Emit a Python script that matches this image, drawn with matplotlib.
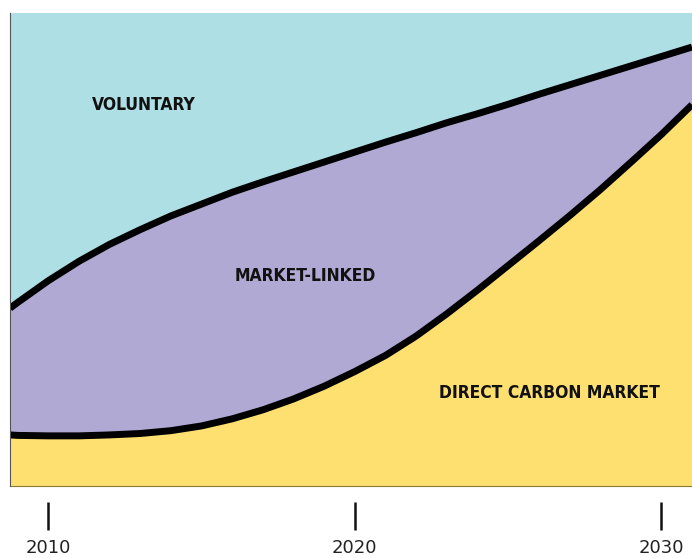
import numpy as np
import matplotlib
matplotlib.use("Agg")
import matplotlib.pyplot as plt

# shares of the market (percent of total)
years = [2008.75] + list(range(2009, 2032))
direct = [10.8, 10.7, 10.6, 10.6, 10.8, 11.1, 11.7, 12.7, 14.2, 16.1, 18.4, 21.1,
          24.2, 27.6, 31.7, 36.4, 41.4, 46.6, 51.8, 57.1, 62.6, 68.4, 74.3, 80.6]
market_linked = [26.8, 28.1, 32.8, 36.9, 40.3, 43.1, 45.4, 46.9, 47.9, 48.2, 48.0, 47.4,
                 46.4, 45.1, 43.0, 40.4, 37.3, 34.1, 31.0, 27.7, 24.2, 20.4, 16.5, 12.2]
voluntary = [62.4, 61.2, 56.6, 52.5, 48.9, 45.8, 42.9, 40.4, 37.9, 35.7, 33.6, 31.5,
             29.4, 27.3, 25.3, 23.2, 21.3, 19.3, 17.2, 15.2, 13.2, 11.2, 9.2, 7.2]

tick_years = [2010, 2020, 2030]
labels = ["DIRECT CARBON MARKET", "MARKET-LINKED", "VOLUNTARY"]
label_pos = [(2026.35, 19.7), (2018.38, 44.4), (2013.13, 80.5)]

colors = ["#FEE071", "#B0A9D4", "#AEDFE4"]

fig = plt.figure(figsize=(6.92, 5.58), dpi=100)
ax = fig.add_axes([10 / 692, 72 / 558, 682 / 692, 473 / 558])

ax.stackplot(years, direct, market_linked, voluntary, colors=colors, linewidth=0)

# thick black boundaries between the layers
d = np.array(direct)
m = d + np.array(market_linked)
ax.plot(years, d, color="black", lw=5, solid_capstyle="butt", solid_joinstyle="round")
ax.plot(years, m, color="black", lw=5, solid_capstyle="butt", solid_joinstyle="round")

ax.set_xlim(2008.75, 2031)
ax.set_ylim(0, 100)

for name, (x, y) in zip(labels, label_pos):
    ax.text(x, y, name, ha="center", va="center", fontsize=12.5,
            fontweight="bold", fontstretch="condensed", family="DejaVu Sans",
            color="#111111")

# axes styling
ax.spines["top"].set_visible(False)
ax.spines["right"].set_visible(False)
ax.spines["left"].set_color("#555555")
ax.spines["left"].set_linewidth(0.8)
ax.spines["bottom"].set_position(("outward", 11.5))
ax.spines["bottom"].set_visible(False)
ax.axhline(0, color="#8A7A30", lw=0.8, clip_on=False)

ax.set_yticks([])
ax.set_xticks(tick_years)
ax.set_xticklabels([str(t) for t in tick_years])
ax.tick_params(axis="x", direction="out", length=20, width=1.8, color="#111111",
               pad=7, labelsize=13, labelcolor="#222222")

fig.savefig("out.png", dpi=100)
